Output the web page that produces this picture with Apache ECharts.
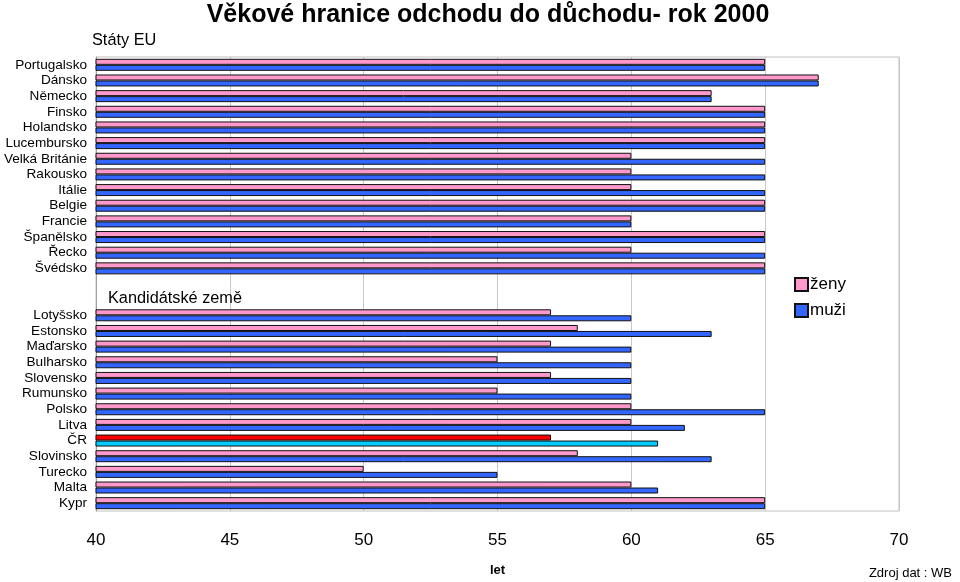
<!DOCTYPE html>
<html><head><meta charset="utf-8">
<script src="https://cdn.jsdelivr.net/npm/echarts@6/dist/echarts.min.js"></script>
<style>html,body{margin:0;padding:0;background:#fff}#c{width:960px;height:582px}</style>
</head><body><div id="c"></div>
<script>
var categories = ['Portugalsko','Dánsko','Německo','Finsko','Holandsko','Lucembursko','Velká Británie','Rakousko','Itálie','Belgie','Francie','Španělsko','Řecko','Švédsko',' ','  ',
  'Lotyšsko','Estonsko','Maďarsko','Bulharsko','Slovensko','Rumunsko','Polsko','Litva','ČR','Slovinsko','Turecko','Malta','Kypr'];
var zeny = [65,67,63,65,65,65,60,60,60,65,60,65,60,65,null,null, 57,58,57,55,57,55,60,60,57,58,50,60,65];
var muzi = [65,67,63,65,65,65,65,65,65,65,60,65,65,65,null,null, 60,63,60,60,60,60,65,62,61,63,55,61,65];
var xTicks = [40,45,50,55,60,65,70];
var highlight = 'ČR';

var FONT = 'Liberation Sans, Arial, sans-serif';
function build(vals, hlColor){
  return vals.map(function(v,i){
    if (categories[i] === highlight) return {value:v, itemStyle:{color:hlColor}};
    return v;
  });
}
var chart = echarts.init(document.getElementById('c'));
chart.setOption({
  animation:false,
  title:{text:'Věkové hranice odchodu do důchodu- rok 2000', left:483, textAlign:'center', top:-2,
    textStyle:{fontFamily:FONT, fontSize:25, fontWeight:'bold', color:'#000'}},
  legend:{orient:'vertical', left:789, top:271, itemWidth:13, itemHeight:13, itemGap:9, icon:'rect',
    textStyle:{fontFamily:FONT, fontSize:17, color:'#000', padding:[0,0,0,-3]},
    data:['ženy','muži']},
  grid:{left:96, right:61, top:57, bottom:71, show:true, borderColor:'#c0c0c0', borderWidth:1},
  xAxis:{type:'value', min:40, max:70, interval:5,
    axisLine:{show:false}, axisTick:{show:false},
    splitLine:{show:true, lineStyle:{color:'#c8c8c8'}},
    axisLabel:{fontFamily:FONT, fontSize:17, color:'#000', margin:21,
      formatter:function(v){return xTicks.indexOf(v)>=0? String(v):'';}},
    name:'let', nameLocation:'middle', nameGap:53,
    nameTextStyle:{fontFamily:FONT, fontSize:13, fontWeight:'bold', color:'#000'}},
  yAxis:{type:'category', data:categories, inverse:true,
    axisLine:{show:true, lineStyle:{color:'#a0a0a0'}}, axisTick:{show:false},
    axisLabel:{fontFamily:FONT, fontSize:13.6, color:'#000', margin:9, interval:0}},
  series:[
    {name:'ženy', type:'bar', data:build(zeny,'#ff0000'), barWidth:6, barGap:'0%',
      itemStyle:{color:'#ff99cc', borderColor:'#111', borderWidth:1}},
    {name:'muži', type:'bar', data:build(muzi,'#00ccff'), barWidth:6, barGap:'0%',
      itemStyle:{color:'#3366ff', borderColor:'#111', borderWidth:1}}
  ],
  graphic:[
    {type:'text', left:92, top:33, z:100, style:{text:'Státy EU', fontFamily:FONT, fontSize:16.3, fill:'#000'}},
    {type:'text', left:108, top:291, z:100, style:{text:'Kandidátské země', fontFamily:FONT, fontSize:16.3, fill:'#000'}},
    {type:'text', right:8, top:567, z:100, style:{text:'Zdroj dat : WB', fontFamily:FONT, fontSize:13, fill:'#000'}}
  ]
});
</script></body></html>
